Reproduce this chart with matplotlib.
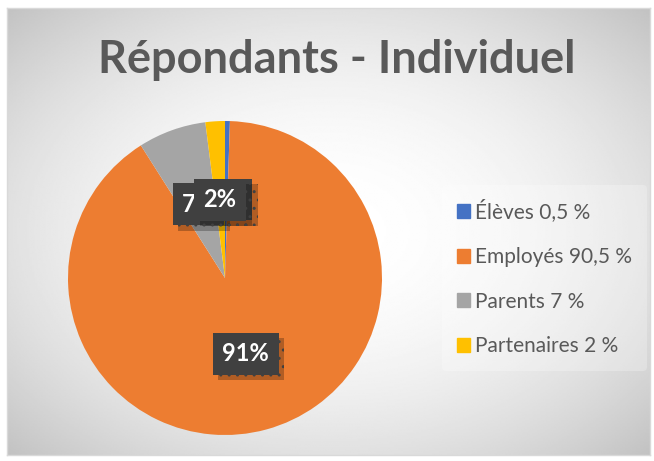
import matplotlib.pyplot as plt
import matplotlib.patheffects as pe
import matplotlib.patches as mpatches
import numpy as np

# data
categories = ["Élèves", "Employés", "Parents", "Partenaires"]
values = [0.5, 90.5, 7, 2]
colors = ["#4472C4", "#ED7D31", "#A5A5A5", "#FFC000"]
title = "Répondants - Individuel"

W, H = 654, 461
fig = plt.figure(figsize=(W / 100, H / 100), dpi=100)
fig.patch.set_facecolor("white")

# chart area with radial gradient background
x0, y0, x1, y1 = 7, 8, 650, 455
bg = fig.add_axes([x0 / W, 1 - y1 / H, (x1 - x0) / W, (y1 - y0) / H])
gx, gy = np.meshgrid(np.linspace(-1, 1, 400), np.linspace(-1, 1, 300))
r2 = (gx ** 2 + gy ** 2) / 2
shade = 1 - 0.24 * r2
bg.imshow(shade, cmap="gray", vmin=0, vmax=1, aspect="auto",
          extent=[0, 1, 0, 1], interpolation="bilinear")
bg.set_xlim(0, 1)
bg.set_ylim(0, 1)
bg.set_xticks([])
bg.set_yticks([])
for s in bg.spines.values():
    s.set_color("#d9d9d9")
    s.set_linewidth(1)

fig.text(337 / W, 1 - 60 / H, title, ha="center", va="center",
         fontsize=32.5, fontweight="bold", color="#595959", family="Lato")

# pie
cx, cy, rad = 225, 278, 157
ax = fig.add_axes([(cx - rad) / W, (H - cy - rad) / H, 2 * rad / W, 2 * rad / H])
ax.set_facecolor("none")
wedges, texts, autotexts = ax.pie(
    values, colors=colors, startangle=90, counterclock=False,
    radius=1, pctdistance=0.5,
    autopct=lambda p: f"{int(p + 0.5)}%",
    textprops=dict(color="white", fontsize=17, fontweight="bold", family="Lato"),
)
ax.set_xlim(-1, 1)
ax.set_ylim(-1, 1)

plt.rcParams["hatch.color"] = "#555555"
for i, t in enumerate(autotexts):
    t.set_zorder(5 + i)
    t.set_bbox(dict(boxstyle="square,pad=0.4", facecolor="#404040",
                    edgecolor="#404040", hatch="..", linewidth=0))
    t.get_bbox_patch().set_path_effects([
        pe.SimplePatchShadow(offset=(4, -4), shadow_rgbFace="black", alpha=0.25),
        pe.Normal()])

# legend
handles = [mpatches.Patch(color=c) for c in colors]
labels = [f"{c} {v:g} %".replace(".", ",") for c, v in zip(categories, values)]
leg = fig.legend(handles, labels, loc="center left",
                 bbox_to_anchor=(442 / W, 1 - 278 / H), borderaxespad=0,
                 frameon=True, labelspacing=1.18,
                 handlelength=0.65, handleheight=0.65, handletextpad=0.25,
                 borderpad=0.7, prop=dict(family="Lato", size=15))
leg.get_frame().set_facecolor("white")
leg.get_frame().set_alpha(0.25)
leg.get_frame().set_linewidth(0)
for t in leg.get_texts():
    t.set_color("#595959")

fig.savefig("out.png", dpi=100)
